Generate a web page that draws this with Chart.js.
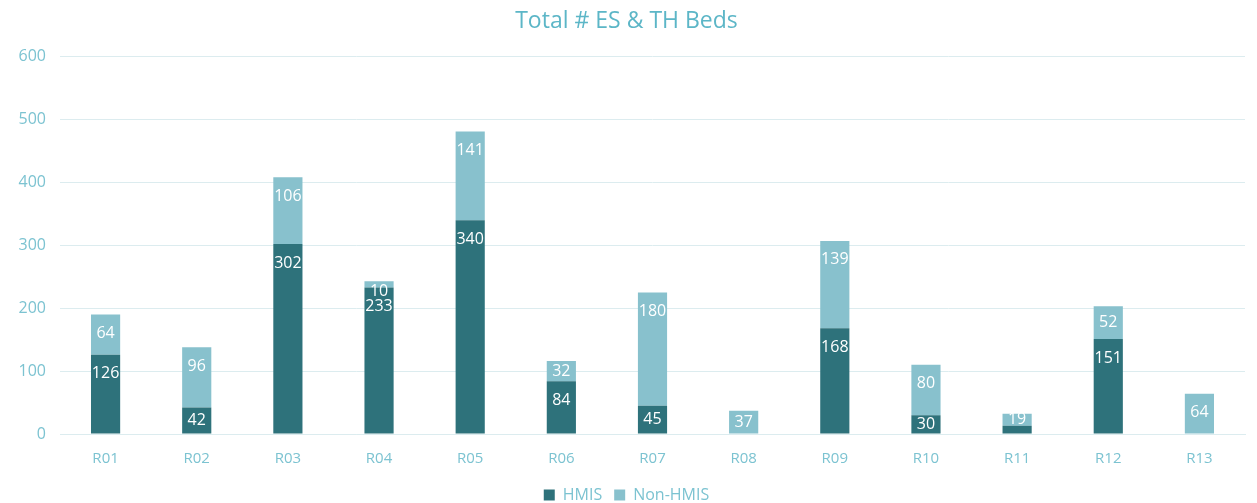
<!DOCTYPE html>
<html>
<head>
<meta charset="utf-8">
<script src="https://cdn.jsdelivr.net/npm/chart.js@4"></script>
<style>
  body { margin: 0; background: #fff; }
  #wrap { width: 1257px; height: 503px; }
</style>
</head>
<body>
<div id="wrap"><canvas id="myChart" width="1257" height="503"></canvas></div>
<script>
let regions = ['R01', 'R02', 'R03', 'R04', 'R05', 'R06', 'R07', 'R08', 'R09', 'R10', 'R11', 'R12', 'R13'];
let hmis = [126, 42, 302, 233, 340, 84, 45, 0, 168, 30, 13, 151, 0];
let nonHmis = [64, 96, 106, 10, 141, 32, 180, 37, 139, 80, 19, 52, 64];
let yTicks = [0, 100, 200, 300, 400, 500, 600];

const tickColor = '#7cc3d1';

// labels inside the segments, near the top for tall ones
const segLabels = {
    id: 'segLabels',
    afterDatasetsDraw(chart) {
        let c = chart.ctx;
        c.save();
        c.font = '16px "Open Sans"';
        c.fillStyle = '#ffffff';
        c.textAlign = 'center';
        c.textBaseline = 'middle';
        chart.data.datasets.forEach((ds, i) => {
            chart.getDatasetMeta(i).data.forEach((bar, j) => {
                let v = ds.data[j];
                if (!v) return;
                let h = bar.base - bar.y;
                if (i == 0 && h < 12) return;
                let y = bar.y + Math.min(h / 2, 19);
                if (h < 8) y = bar.y + 10; // tiny segment: label spills below, like the original
                c.fillText(v, bar.x, y);
            });
        });
        c.restore();
    }
};

const ctx = document.getElementById('myChart');

new Chart(ctx, {
    type: 'bar',
    data: {
        labels: regions,
        datasets: [{
            label: 'HMIS',
            data: hmis,
            backgroundColor: '#2e727b',
            barPercentage: 0.64,
            categoryPercentage: 0.5
        }, {
            label: 'Non-HMIS',
            data: nonHmis,
            backgroundColor: '#88c1cd',
            barPercentage: 0.64,
            categoryPercentage: 0.5
        }]
    },
    options: {
        responsive: false,
        animation: false,
        layout: { padding: { left: 8, right: 12, top: 0, bottom: -10 } },
        plugins: {
            title: {
                display: true,
                text: 'Total # ES & TH Beds',
                color: '#5cb6c7',
                font: { family: 'Open Sans', size: 23, weight: 'normal' },
                padding: { top: 8, bottom: 21 }
            },
            legend: {
                position: 'bottom',
                labels: {
                    color: tickColor,
                    font: { family: 'Open Sans', size: 16 },
                    boxWidth: 11,
                    boxHeight: 11,
                    padding: 12
                }
            },
            tooltip: { enabled: false }
        },
        scales: {
            x: {
                stacked: true,
                afterFit: axis => { axis.height = 41; },
                grid: { display: false },
                border: { color: '#dcecef' },
                ticks: { color: tickColor, font: { family: 'Open Sans', size: 15 }, padding: 8 }
            },
            y: {
                stacked: true,
                min: 0,
                max: 600,
                afterBuildTicks: axis => { axis.ticks = yTicks.map(v => ({ value: v })); },
                afterFit: axis => { axis.width = 52; },
                grid: { color: '#dcecef', drawTicks: false },
                border: { display: false },
                ticks: { color: tickColor, font: { family: 'Open Sans', size: 16 }, padding: 14 }
            }
        }
    },
    plugins: [segLabels]
});
</script>
</body>
</html>
